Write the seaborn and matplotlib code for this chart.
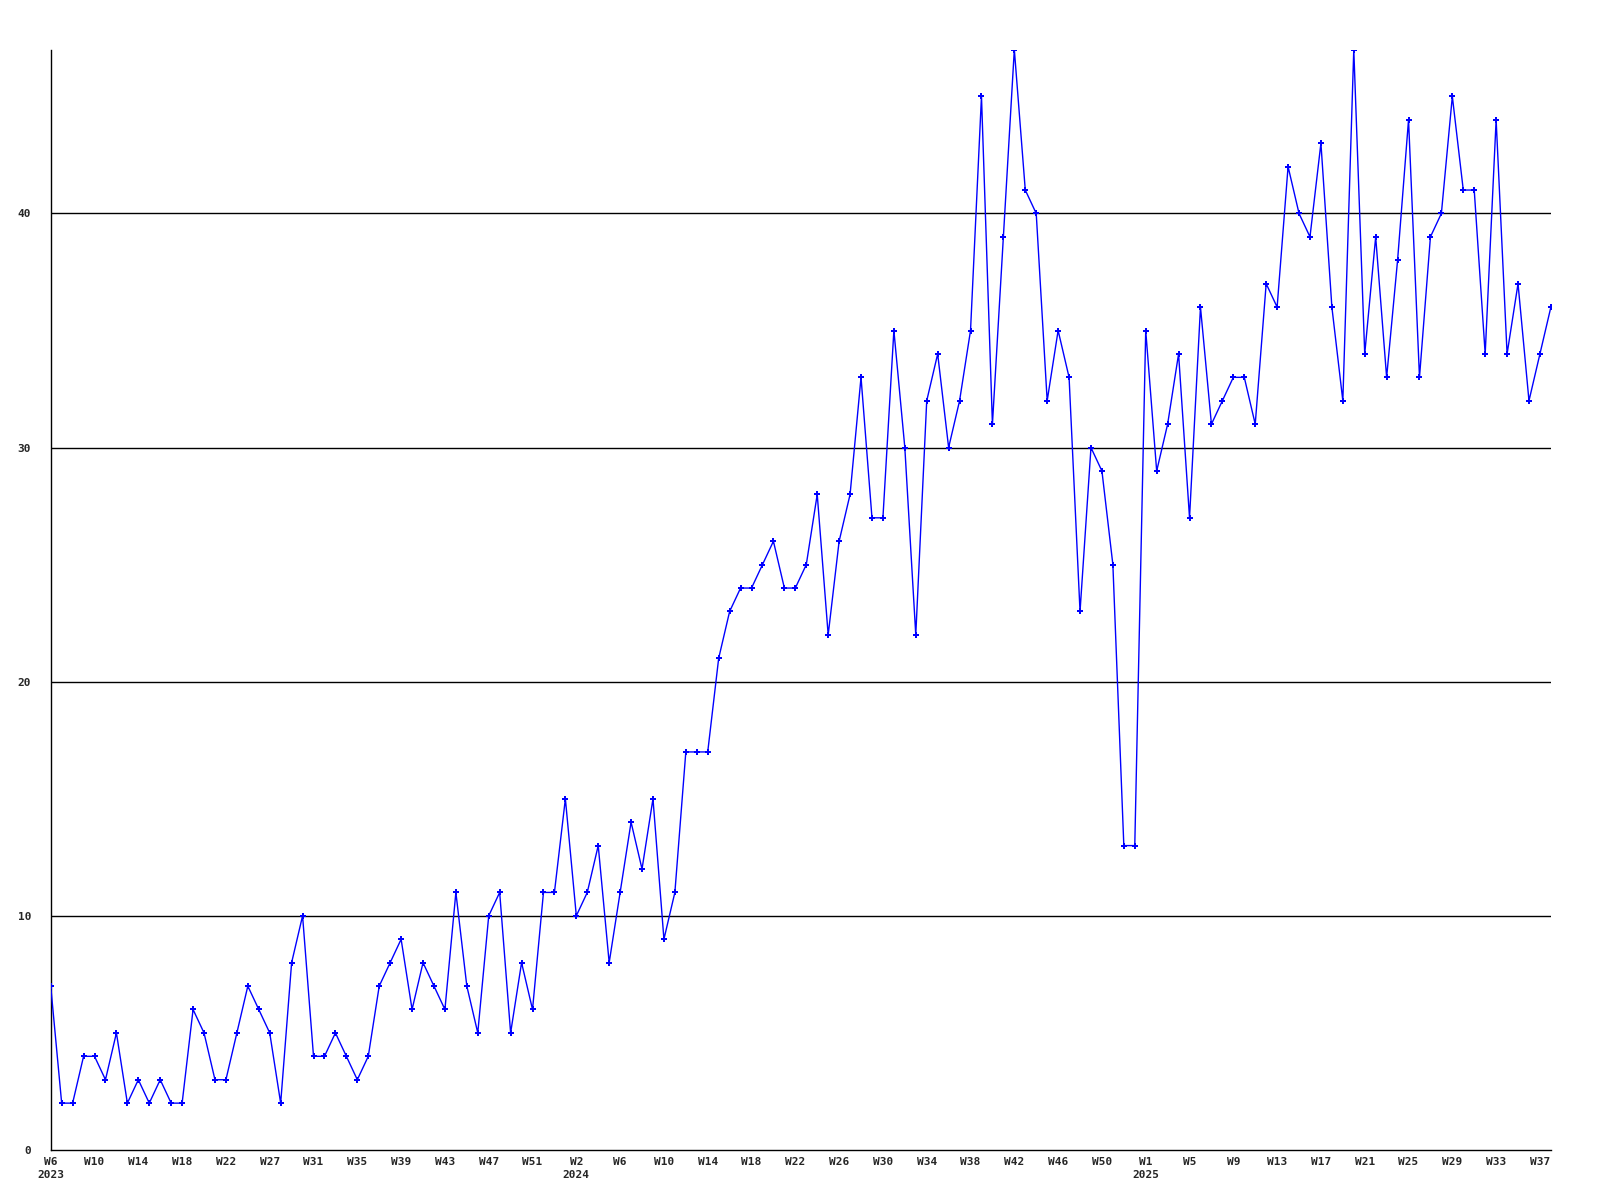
import pandas as pd
import matplotlib
matplotlib.use('Agg')
import matplotlib.pyplot as plt
import seaborn as sns

# weekly counts, one value per data point (W6 2023 .. W38 2025)
counts = [7, 2, 2, 4, 4, 3, 5, 2, 3, 2, 3, 2, 2, 6, 5, 3, 3, 5, 7, 6,
          5, 2, 8, 10, 4, 4, 5, 4, 3, 4, 7, 8, 9, 6, 8, 7, 6, 11,
          7, 5, 10, 11, 5, 8, 6, 11, 11, 15, 10, 11, 13, 8, 11, 14, 12, 15, 9, 11,
          17, 17, 17, 21, 23, 24, 24, 25, 26, 24, 24, 25, 28, 22, 26, 28, 33, 27, 27, 35, 30, 22, 32,
          34, 30, 32, 35, 45, 31, 39, 47, 41, 40, 32, 35, 33, 23, 30, 29, 25, 13, 13, 35,
          29, 31, 34, 27, 36, 31, 32, 33, 33, 31, 37, 36, 42, 40, 39, 43, 36, 32, 47, 34,
          39, 33, 38, 44, 33, 39, 40, 45, 41, 41, 34, 44, 34, 37, 32, 34, 36]

# labels on every 4th point
week_labels = ['W6', 'W10', 'W14', 'W18', 'W22', 'W27', 'W31', 'W35', 'W39', 'W43', 'W47', 'W51',
               'W2', 'W6', 'W10', 'W14', 'W18', 'W22', 'W26', 'W30', 'W34', 'W38', 'W42', 'W46', 'W50',
               'W1', 'W5', 'W9', 'W13', 'W17', 'W21', 'W25', 'W29', 'W33', 'W37']
year_labels = {0: '2023', 12: '2024', 25: '2025'}
y_ticks = [0, 10, 20, 30, 40]

df = pd.DataFrame({'idx': range(len(counts)), 'count': counts})

sns.set_style('white')
plt.rcParams['font.family'] = ['DejaVu Sans Mono']

fig = plt.figure(figsize=(16, 12), dpi=100)
ax = fig.add_axes([0.0317, 0.0417, 0.9376, 0.917])

for y in y_ticks[1:]:
    ax.axhline(y, color='black', linewidth=1.0, zorder=1)

sns.lineplot(data=df, x='idx', y='count', ax=ax, color='#0000ff', linewidth=1.0,
             marker='P', markersize=4.5, markeredgewidth=0, zorder=3)

ax.set_xlim(0, len(counts) - 1)
ax.set_ylim(0, 47)

tick_pos = list(range(0, len(counts), 4))[:len(week_labels)]
labels = []
for i, w in enumerate(week_labels):
    labels.append(w + '\n' + year_labels[i] if i in year_labels else w)
ax.set_xticks(tick_pos)
ax.set_xticklabels(labels, fontsize=8, fontweight='bold', linespacing=1.4)
ax.set_yticks(y_ticks)
ax.set_yticklabels([str(v) for v in y_ticks], fontsize=8, fontweight='bold')
ax.tick_params(axis='both', length=0)
ax.tick_params(axis='x', pad=5)
ax.tick_params(axis='y', pad=14)

ax.set_xlabel('')
ax.set_ylabel('')
for s in ['top', 'right']:
    ax.spines[s].set_visible(False)
for s in ['left', 'bottom']:
    ax.spines[s].set_color('black')
    ax.spines[s].set_linewidth(1.0)

plt.savefig('out.png', dpi=100)
